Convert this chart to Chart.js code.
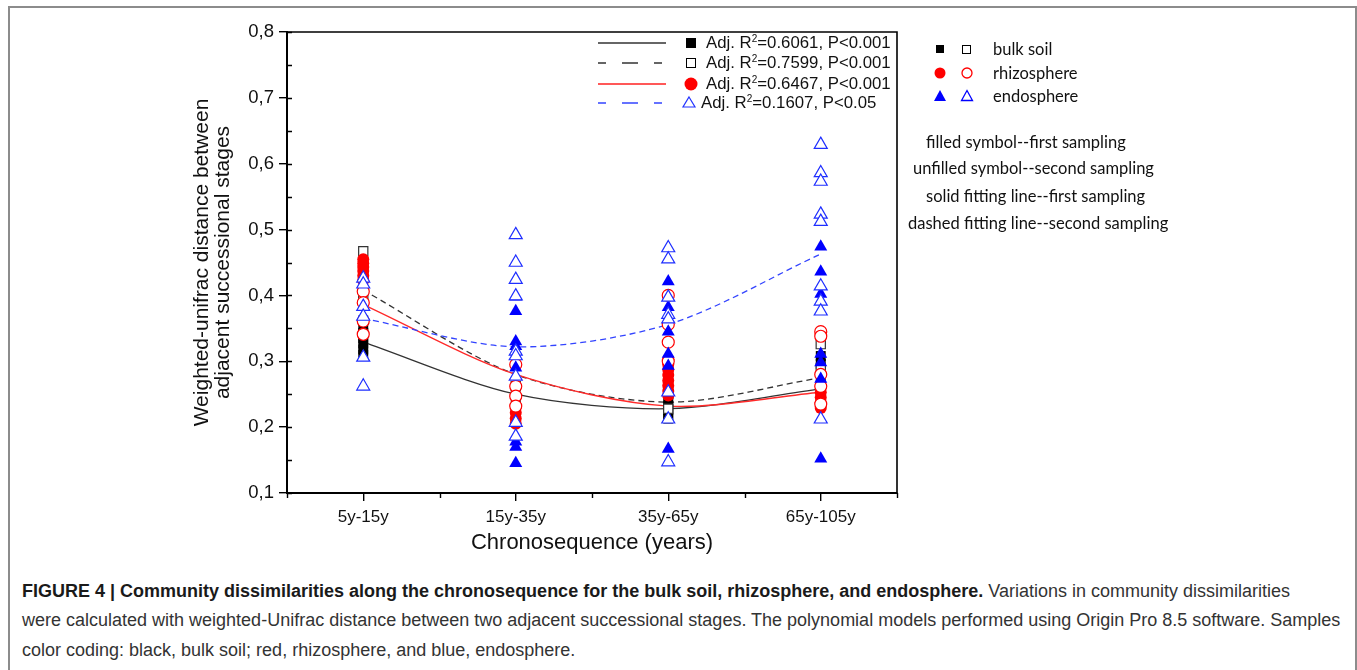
<!DOCTYPE html>
<html>
<head>
<meta charset="utf-8">
<script src="https://cdn.jsdelivr.net/npm/chart.js@4.4.0/dist/chart.umd.min.js"></script>
<style>
  body { margin: 0; background: #fff; width: 1357px; height: 670px; overflow: hidden; position: relative; font-family: 'Liberation Sans', Arial, sans-serif; }
  #frame { position: absolute; left: 8px; top: 6px; width: 1345px; height: 700px; border: 2px solid #8c8c8c; border-bottom: none; }
  #wrap { position: absolute; left: 140px; top: 0; width: 780px; height: 560px; }
  .fit-row { position: absolute; left: 596px; height: 20px; line-height: 20px; font-size: 16.8px; color: #111; white-space: nowrap; }
  .fit-row svg { position: absolute; top: 0; }
  .fit-row span { position: absolute; top: 0; }
  .fit-row sup { font-size: 10px; vertical-align: 6px; line-height: 0; }
  .key-row { position: absolute; left: 930px; height: 22px; line-height: 22px; font-family: Lato, 'Open Sans', sans-serif; font-size: 16.5px; color: #111; white-space: nowrap; }
  .key-row svg { position: absolute; top: 0; left: 0; }
  .key-row span { position: absolute; left: 63px; top: 0; }
  .note { position: absolute; height: 22px; line-height: 22px; font-family: Lato, 'Open Sans', sans-serif; font-size: 16.5px; color: #111; white-space: nowrap; }
  .cap { position: absolute; left: 22px; height: 24px; line-height: 24px; font-size: 18px; color: #333; white-space: nowrap; }
  .cap b { color: #1a1a1a; }
</style>
</head>
<body>
<div id="frame"></div>
<div id="wrap"><canvas id="chart"></canvas></div>

<!-- fit legend inside the plot -->
<div class="fit-row" style="top:33px">
  <svg width="110" height="20"><line x1="2" y1="10" x2="70" y2="10" stroke="#333" stroke-width="1.4"/><rect x="90" y="5" width="10" height="10" fill="#000"/></svg>
  <span style="left:110px">Adj. R<sup>2</sup>=0.6061, P&lt;0.001</span>
</div>
<div class="fit-row" style="top:53px">
  <svg width="110" height="20"><line x1="2" y1="10" x2="70" y2="10" stroke="#333" stroke-width="1.4" stroke-dasharray="8,16,16,16"/><rect x="90.5" y="5.5" width="9" height="9" fill="#fff" stroke="#000" stroke-width="1"/></svg>
  <span style="left:110px">Adj. R<sup>2</sup>=0.7599, P&lt;0.001</span>
</div>
<div class="fit-row" style="top:74px">
  <svg width="110" height="20"><line x1="2" y1="10" x2="70" y2="10" stroke="#ff2020" stroke-width="1.4"/><circle cx="95" cy="10" r="6.5" fill="#ff0000"/></svg>
  <span style="left:110px">Adj. R<sup>2</sup>=0.6467, P&lt;0.001</span>
</div>
<div class="fit-row" style="top:93px">
  <svg width="110" height="20"><line x1="2" y1="10" x2="70" y2="10" stroke="#3344ff" stroke-width="1.6" stroke-dasharray="8,16,16,16"/><polygon points="93,4 99,14 87,14" fill="#fff" stroke="#2233ff" stroke-width="1.2"/></svg>
  <span style="left:105px">Adj. R<sup>2</sup>=0.1607, P&lt;0.05</span>
</div>

<!-- symbol key on the right -->
<div class="key-row" style="top:38px">
  <svg width="50" height="22"><rect x="6" y="7" width="8" height="8" fill="#000"/><rect x="32.5" y="7.5" width="8" height="8" fill="#fff" stroke="#000" stroke-width="1"/></svg>
  <span>bulk soil</span>
</div>
<div class="key-row" style="top:62px">
  <svg width="50" height="22"><circle cx="10" cy="11" r="5.5" fill="#ff0000"/><circle cx="37" cy="11" r="5" fill="#fff" stroke="#ff0000" stroke-width="1.3"/></svg>
  <span>rhizosphere</span>
</div>
<div class="key-row" style="top:85px">
  <svg width="50" height="22"><polygon points="10,5 16,16 4,16" fill="#0000ff"/><polygon points="37,5.5 42.5,15.5 31.5,15.5" fill="#fff" stroke="#0000ff" stroke-width="1.3"/></svg>
  <span>endosphere</span>
</div>

<div class="note" style="left:926px; top:131px">filled symbol--first sampling</div>
<div class="note" style="left:913px; top:157px">unfilled symbol--second sampling</div>
<div class="note" style="left:926px; top:185px">solid fitting line--first sampling</div>
<div class="note" style="left:908px; top:212px">dashed fitting line--second sampling</div>

<div class="cap" style="top:579px"><b>FIGURE 4 | Community dissimilarities along the chronosequence for the bulk soil, rhizosphere, and endosphere.</b> Variations in community dissimilarities</div>
<div class="cap" style="top:608px">were calculated with weighted-Unifrac distance between two adjacent successional stages. The polynomial models performed using Origin Pro 8.5 software. Samples</div>
<div class="cap" style="top:638px">color coding: black, bulk soil; red, rhizosphere, and blue, endosphere.</div>

<script>
const categories = ['5y-15y', '15y-35y', '35y-65y', '65y-105y']
const yTicks = [0.1, 0.2, 0.3, 0.4, 0.5, 0.6, 0.7, 0.8]

// values per category (one inner array per category)
const bulkFirst = [
  [0.362, 0.352, 0.343, 0.335, 0.327, 0.318, 0.310],
  [0.245, 0.228],
  [0.240, 0.233, 0.226, 0.219, 0.213],
  [0.308, 0.296, 0.270],
]
const bulkSecond = [
  [0.467, 0.400],
  [0.262],
  [0.250, 0.228],
  [0.326, 0.290],
]
const rhizoFirst = [
  [0.455, 0.449, 0.443, 0.437, 0.430, 0.423],
  [0.232, 0.222, 0.213, 0.205],
  [0.303, 0.295, 0.287, 0.279, 0.271, 0.263, 0.255, 0.248],
  [0.253, 0.245, 0.237, 0.229],
]
const rhizoSecond = [
  [0.406, 0.389, 0.361, 0.341],
  [0.295, 0.262, 0.247, 0.232],
  [0.400, 0.356, 0.329, 0.300],
  [0.345, 0.338, 0.280, 0.262, 0.235],
]
const endoFirst = [
  [],
  [0.398, 0.376, 0.330, 0.323, 0.290, 0.178, 0.170, 0.145],
  [0.421, 0.382, 0.345, 0.311, 0.293, 0.167],
  [0.474, 0.436, 0.402, 0.311, 0.298, 0.273, 0.152],
]
const endoSecond = [
  [0.426, 0.417, 0.383, 0.368, 0.306, 0.262],
  [0.492, 0.450, 0.424, 0.399, 0.315, 0.308, 0.277, 0.207, 0.186],
  [0.472, 0.455, 0.397, 0.371, 0.364, 0.253, 0.212, 0.147],
  [0.629, 0.586, 0.573, 0.523, 0.512, 0.414, 0.391, 0.376, 0.212],
]

// polynomial fitting lines, value at each category
const fitBulkFirst = [0.329, 0.250, 0.228, 0.258]
const fitBulkSecond = [0.408, 0.280, 0.238, 0.275]
const fitRhizoFirst = [0.386, 0.280, 0.232, 0.253]
const fitEndoSecond = [0.365, 0.322, 0.356, 0.463]

const toPoints = (groups) =>
  groups.flatMap((vals, i) => vals.map((v) => ({ x: categories[i], y: v })))

function pointSet(groups, style, color, filled, radius, order) {
  return {
    data: toPoints(groups),
    showLine: false,
    pointStyle: style,
    pointRadius: radius,
    pointBorderWidth: filled ? 0 : 1.2,
    pointBorderColor: color,
    pointBackgroundColor: filled ? color : '#ffffff',
    order: order,
  }
}

function fitSet(values, color, dash, order) {
  return {
    data: values,
    borderColor: color,
    borderWidth: 1.3,
    borderDash: dash,
    pointRadius: 0,
    tension: 0.3,
    fill: false,
    order: order,
  }
}

const datasets = [
  pointSet(endoSecond, 'triangle', '#1f2fff', false, 7.5, 1),
  pointSet(endoFirst, 'triangle', '#0000ff', true, 7.5, 2),
  pointSet(rhizoSecond, 'circle', '#ff0000', false, 6, 3),
  pointSet(rhizoFirst, 'circle', '#ff0000', true, 6, 4),
  pointSet(bulkSecond, 'rect', '#333333', false, 6.5, 5),
  pointSet(bulkFirst, 'rect', '#000000', true, 7, 6),
  fitSet(fitEndoSecond, '#3344ff', [6, 4], 7),
  fitSet(fitRhizoFirst, '#ff2a2a', [], 8),
  fitSet(fitBulkSecond, '#333333', [6, 4], 9),
  fitSet(fitBulkFirst, '#333333', [], 10),
]

// top/right frame plus the small inner ticks of the Origin style axes
const frameTicks = {
  id: 'frameTicks',
  afterDraw(chart) {
    const { ctx, chartArea: a, scales } = chart
    const x = scales.x
    const y = scales.y
    ctx.save()
    ctx.strokeStyle = '#000'
    ctx.lineWidth = 1.6
    ctx.beginPath()
    ctx.moveTo(a.left, a.top)
    ctx.lineTo(a.right, a.top)
    ctx.lineTo(a.right, a.bottom)
    ctx.stroke()
    ctx.lineWidth = 1.4
    ctx.beginPath()
    for (let v = y.min; v <= y.max + 1e-9; v += 0.05) {
      const py = Math.round(y.getPixelForValue(v)) + 0.5
      ctx.moveTo(a.left, py)
      ctx.lineTo(a.left + 5, py)
    }
    const step = x.getPixelForValue(1) - x.getPixelForValue(0)
    for (let i = 0; i <= categories.length; i++) {
      const px = Math.round(x.getPixelForValue(i) - step / 2) + 0.5
      ctx.moveTo(px, a.bottom)
      ctx.lineTo(px, a.bottom + 5)
    }
    ctx.stroke()
    ctx.restore()
  },
}

const ctx = document.getElementById('chart').getContext('2d')
new Chart(ctx, {
  type: 'line',
  data: { labels: categories, datasets },
  options: {
    responsive: true,
    maintainAspectRatio: false,
    animation: false,
    events: [],
    layout: { padding: { top: 32, right: 23, left: 0, bottom: 0 } },
    plugins: { legend: { display: false }, tooltip: { enabled: false } },
    scales: {
      x: {
        type: 'category',
        offset: true,
        grid: { display: true, drawOnChartArea: false, offset: false, tickLength: 8, color: '#000', lineWidth: 1.4 },
        border: { display: true, color: '#000', width: 2 },
        ticks: { color: '#111', padding: 6, font: { family: 'Liberation Sans', size: 17 }, maxRotation: 0 },
        title: { display: true, text: 'Chronosequence (years)', color: '#111', font: { family: 'Liberation Sans', size: 22, lineHeight: 1.0 }, padding: { top: 0, bottom: 6 } },
        afterFit: (s) => { s.height = 67 },
      },
      y: {
        min: 0.1,
        max: 0.8,
        afterBuildTicks: (s) => { s.ticks = yTicks.map((v) => ({ value: v })) },
        grid: { display: true, drawOnChartArea: false, tickLength: 8, color: '#000', lineWidth: 1.4 },
        border: { display: true, color: '#000', width: 2 },
        ticks: {
          color: '#111',
          padding: 5,
          font: { family: 'Liberation Sans', size: 18.5 },
          callback: (v) => Number(v).toFixed(1).replace('.', ','),
        },
        title: {
          display: true,
          text: ['Weighted-unifrac distance between', 'adjacent successional stages'],
          color: '#111',
          font: { family: 'Liberation Sans', size: 21, lineHeight: 1.0 },
          padding: { top: 52, bottom: 0 },
        },
        afterFit: (s) => { s.width = 147 },
      },
    },
  },
  plugins: [frameTicks],
})
</script>
</body>
</html>
